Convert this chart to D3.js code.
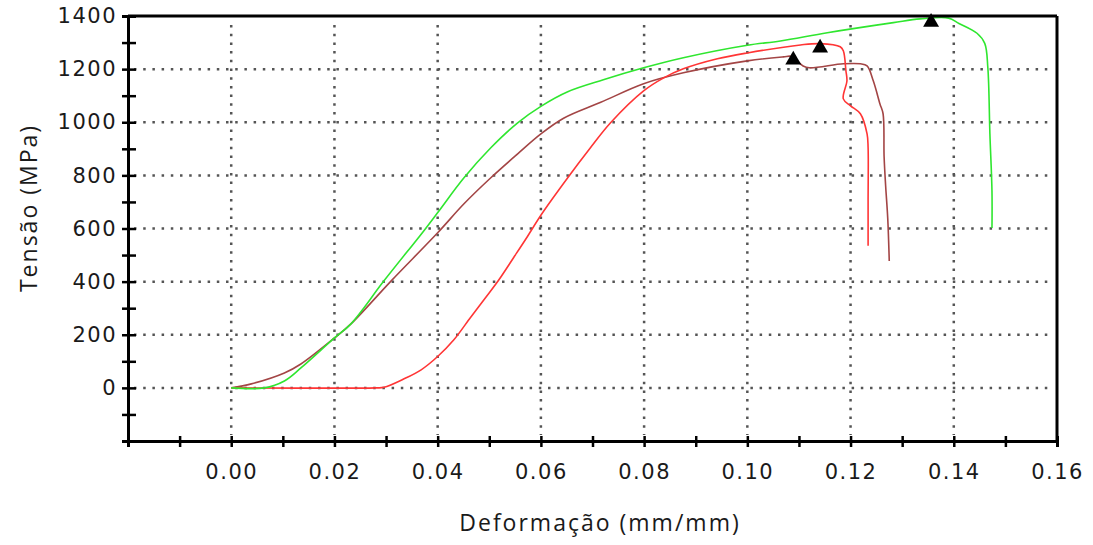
<!DOCTYPE html>
<html>
<head>
<meta charset="utf-8">
<script src="https://cdn.jsdelivr.net/npm/d3@7"></script>
<style>
  body { margin: 0; background: #fff; }
  .tick text { font-family: "DejaVu Sans", Verdana, sans-serif; font-size: 21px; fill: #1a1a1a; letter-spacing: 1.5px; }
  .axis path, .axis line { stroke: #000; }
  .title { font-family: "Open Sans", "Noto Sans", sans-serif; font-size: 23px; fill: #1a1a1a; letter-spacing: 2px; }
</style>
</head>
<body>
<div class="chart"></div>
<script>
// curves (strain mm/mm, stress MPa)
const greenStrain = [0, 0.0064, 0.0103, 0.0135, 0.020, 0.0232, 0.0296, 0.0373, 0.0402, 0.0451, 0.0503, 0.0555, 0.060, 0.0652, 0.0721, 0.0799, 0.0876, 0.100, 0.1064, 0.1155, 0.1283, 0.1335, 0.1390, 0.1410, 0.1445, 0.1460, 0.1466, 0.1470, 0.1474, 0.1474];
const greenStress = [0, 0, 26, 75, 188, 241, 403, 591, 665, 791, 904, 998, 1060, 1115, 1160, 1205, 1243, 1290, 1306, 1337, 1375, 1389, 1392, 1372, 1335, 1297, 1205, 956, 742, 602];

const brownStrain = [0, 0.0039, 0.0103, 0.0135, 0.020, 0.0232, 0.031, 0.040, 0.0451, 0.0503, 0.0555, 0.060, 0.0644, 0.0716, 0.0799, 0.0876, 0.100, 0.107, 0.1085, 0.1108, 0.1120, 0.1186, 0.1219, 0.1232, 0.1244, 0.1257, 0.1263, 0.1265, 0.1268, 0.1272, 0.1275];
const brownStress = [0, 15, 56, 90, 188, 241, 403, 584, 693, 791, 881, 956, 1015, 1075, 1145, 1186, 1231, 1246, 1248, 1212, 1205, 1220, 1220, 1212, 1156, 1069, 1032, 870, 760, 640, 478];

const redStrain = [0, 0.028, 0.0296, 0.0335, 0.0368, 0.040, 0.0431, 0.0464, 0.0493, 0.0518, 0.0547, 0.0574, 0.060, 0.0652, 0.0696, 0.0735, 0.0799, 0.0838, 0.0876, 0.0942, 0.100, 0.1103, 0.1141, 0.1180, 0.1186, 0.1191, 0.1193, 0.1186, 0.1200, 0.1219, 0.1232, 0.1234, 0.1234, 0.1234];
const redStress = [0, 0, 2, 34, 68, 118, 180, 266, 340, 405, 490, 570, 650, 791, 904, 998, 1118, 1167, 1201, 1239, 1261, 1291, 1296, 1284, 1269, 1194, 1156, 1088, 1062, 1032, 956, 904, 704, 535];

// peak markers
const markerStrain = [0.1356, 0.1141, 0.1089];
const markerStress = [1377, 1280, 1235];

const yTicks = d3.range(-200, 1401, 100);
const xTicks = d3.range(-2, 17).map(i => i / 100);
const yGrid = d3.range(0, 1201, 200);
const xGrid = d3.range(0, 15, 2).map(i => i / 100);

const width = 1093, height = 545;
const plot = {left: 128, right: 1057, top: 16, bottom: 441};

const svg = d3.select('.chart').append('svg')
    .attr('width', width)
    .attr('height', height);

const xScale = d3.scaleLinear().domain([-0.02, 0.16]).range([plot.left, plot.right]);
const yScale = d3.scaleLinear().domain([-200, 1400]).range([plot.bottom, plot.top]);

// dotted grid
svg.append('g').selectAll('line')
    .data(yGrid)
    .enter().append('line')
    .attr('x1', plot.left + 6).attr('x2', plot.right - 4)
    .attr('y1', d => yScale(d)).attr('y2', d => yScale(d))
    .attr('stroke', '#555').attr('stroke-width', 2.5)
    .attr('stroke-dasharray', '2.5,6.7');

svg.append('g').selectAll('line')
    .data(xGrid)
    .enter().append('line')
    .attr('x1', d => xScale(d)).attr('x2', d => xScale(d))
    .attr('y1', plot.top + 9).attr('y2', plot.bottom - 6)
    .attr('stroke', '#555').attr('stroke-width', 2.5)
    .attr('stroke-dasharray', '2.5,6.2');

// curves
const line = d3.line()
    .x(d => xScale(d[0])).y(d => yScale(d[1]))
    .curve(d3.curveCatmullRom.alpha(0.5));
const series = [
    {strain: brownStrain, stress: brownStress, color: '#a34545'},
    {strain: redStrain, stress: redStress, color: '#ff3535'},
    {strain: greenStrain, stress: greenStress, color: '#2fe62f'}
];
svg.selectAll('.curve')
    .data(series)
    .enter().append('path')
    .attr('class', 'curve')
    .attr('fill', 'none')
    .attr('stroke', d => d.color)
    .attr('stroke-width', 1.6)
    .attr('d', d => line(d.strain.map((s, i) => [s, d.stress[i]])));

// frame top/right
svg.append('line')
    .attr('x1', plot.left).attr('x2', plot.right)
    .attr('y1', plot.top).attr('y2', plot.top)
    .attr('stroke', '#000').attr('stroke-width', 3);
svg.append('line')
    .attr('x1', plot.right).attr('x2', plot.right)
    .attr('y1', plot.top).attr('y2', plot.bottom)
    .attr('stroke', '#000').attr('stroke-width', 3);

// axes, ticks cross the line on both sides
const yAxis = d3.axisLeft(yScale).tickValues(yTicks).tickSize(6).tickPadding(5)
    .tickFormat(d => d >= 0 && d % 200 === 0 ? d : '');
const yAxisIn = d3.axisRight(yScale).tickValues(yTicks).tickSize(8).tickFormat('');
const xAxis = d3.axisBottom(xScale).tickValues(xTicks).tickSize(6).tickPadding(17)
    .tickFormat(d => d >= 0 && Math.round(d * 100) % 2 === 0 ? d3.format('.2f')(d) : '');
const xAxisIn = d3.axisTop(xScale).tickValues(xTicks).tickSize(5).tickFormat('');

[[yAxis, `translate(${plot.left},0)`], [yAxisIn, `translate(${plot.left},0)`],
 [xAxis, `translate(0,${plot.bottom})`], [xAxisIn, `translate(0,${plot.bottom})`]].forEach(([ax, t]) => {
    const g = svg.append('g').attr('class', 'axis').attr('transform', t).call(ax);
    g.select('.domain').attr('stroke-width', 3);
    g.selectAll('.tick line').attr('stroke-width', 2.5);
});

// markers
svg.selectAll('.marker')
    .data(markerStrain)
    .enter().append('path')
    .attr('class', 'marker')
    .attr('d', d3.symbol(d3.symbolTriangle, 110))
    .attr('transform', (d, i) => `translate(${xScale(d)},${yScale(markerStress[i])})`)
    .attr('fill', '#000');

// titles
svg.append('text')
    .attr('class', 'title')
    .attr('x', 600).attr('y', 531)
    .attr('text-anchor', 'middle')
    .text('Deformação (mm/mm)');

svg.append('text')
    .attr('class', 'title')
    .attr('transform', 'translate(37,208) rotate(-90)')
    .attr('text-anchor', 'middle')
    .text('Tensão (MPa)');
</script>
</body>
</html>
